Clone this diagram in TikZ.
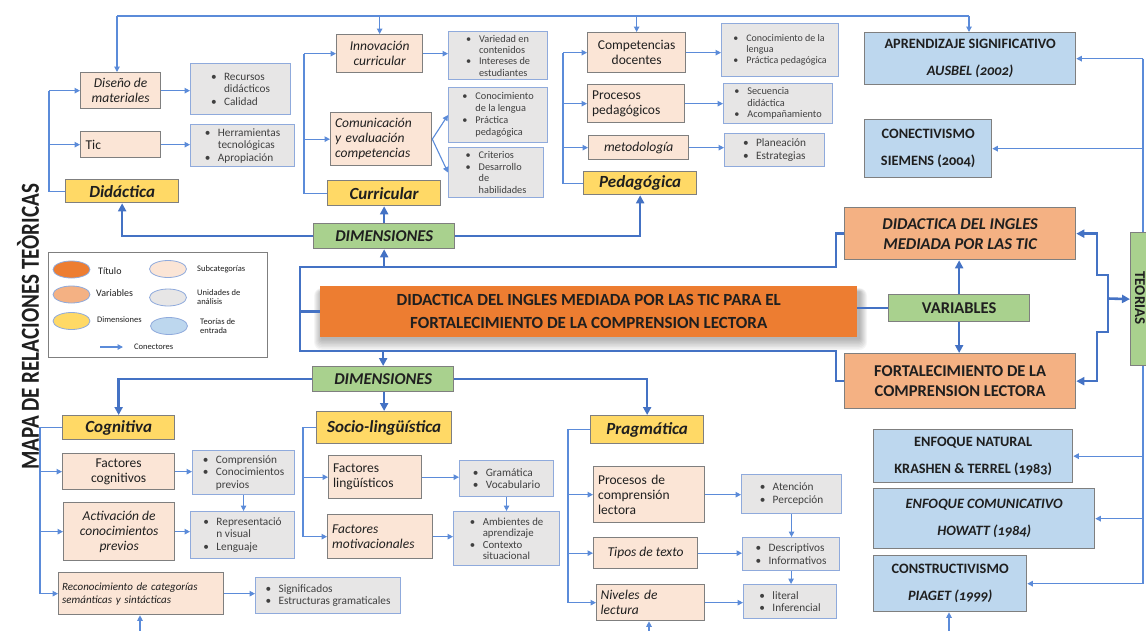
\documentclass[tikz,border=0pt]{standalone}
\usepackage{fontspec}
\usepackage{graphicx}
\setmainfont{Carlito}
\usetikzlibrary{arrows.meta,shapes.geometric}
\definecolor{cTitle}{HTML}{ED7D31}
\definecolor{cVar}{HTML}{F4B183}
\definecolor{cDim}{HTML}{FFD966}
\definecolor{cSub}{HTML}{FBE5D6}
\definecolor{cUni}{HTML}{E7E6E6}
\definecolor{cTeo}{HTML}{BDD7EE}
\definecolor{cGreen}{HTML}{A9D18E}
\definecolor{cLine}{HTML}{4472C4}
\definecolor{cThin}{HTML}{5B8BD9}
\definecolor{cBorder}{HTML}{7F7F7F}
\definecolor{cUniB}{HTML}{8FAADC}
\definecolor{cTxt}{HTML}{1F1F1F}
\definecolor{cUT}{HTML}{404040}
\newcommand\bx[7]{\node[#1,anchor=north west,minimum width=#5pt-#3pt,minimum height=#6pt-#4pt] (#2) at (#3,#4) {#7};}
\newcommand\bl{\makebox[13pt][l]{\textbullet}}
\newcommand\ind{\hspace*{13pt}}
\newcommand\osf{\addfontfeature{Numbers=OldStyle}}
\tikzset{
 base/.style={inner sep=2pt, text=cTxt, line width=1.3pt},
 sub/.style={base, fill=cSub, draw=cBorder, align=center, font=\fontsize{13.5}{15}\selectfont},
 subi/.style={sub, font=\fontsize{13.5}{15}\selectfont\itshape},
 uni/.style={base, fill=cUni, draw=cUniB, line width=1.1pt, align=left, text=cUT, font=\fontsize{11.3}{12.5}\selectfont},
 dimn/.style={base, fill=cDim, draw=cBorder, font=\fontsize{17}{19}\selectfont\bfseries\itshape},
 grn/.style={base, fill=cGreen, draw=cBorder, font=\fontsize{16.5}{19}\selectfont\bfseries},
 varn/.style={base, fill=cVar, draw=cBorder, align=center, font=\fontsize{16.5}{20}\selectfont\bfseries},
 teon/.style={base, fill=cTeo, draw=cBorder, align=center, font=\fontsize{14.3}{27}\selectfont\bfseries},
 titn/.style={inner sep=0pt, fill=cTitle, text=cTxt, align=center, font=\fontsize{17}{23}\selectfont\bfseries},
 tk/.style={draw=cLine, line width=2.6pt},
 tn/.style={draw=cThin, line width=1.1pt},
 tka/.style={tk, -{Triangle[length=8pt,width=8pt]}},
 tna/.style={tn, -{Triangle[length=5.5pt,width=5.5pt]}},
 le/.style={ellipse, draw=cUniB, line width=0.8pt, minimum width=37pt, minimum height=17pt, inner sep=0pt},
 lt/.style={anchor=west, inner sep=0pt, font=\fontsize{8.5}{9.5}\selectfont, align=left, text=cTxt},
}
\begin{document}
\begin{tikzpicture}[x=1pt,y=-1pt]
\useasboundingbox (0,0) rectangle (1146,630);
\fill[white] (0,0) rectangle (1146,630);

% vertical title
\node[rotate=90, text=cTxt, font=\fontsize{26}{28}\selectfont\bfseries] (vt) at (28,327) {\scalebox{0.81}[1]{MAPA DE RELACIONES TEÒRICAS}};

% ---- Didactica group
\bx{subi}{dis}{80}{72}{160}{108}{Diseño de\\materiales}
\bx{sub,text width=70pt,align=left}{tic}{80}{131}{160}{157}{Tic}
\bx{dimn}{did}{65}{179}{178}{202}{Didáctica}
\bx{uni}{rec1}{190}{63}{290}{114}{\bl Recursos\\\ind didácticos\\\bl Calidad}
\bx{uni}{her}{190}{124}{294}{166}{\bl Herramientas\\\ind tecnológicas\\\bl Apropiación}

% ---- Curricular group
\bx{subi}{inn}{336}{34}{422}{72}{Innovación\\curricular}
\bx{subi,text width=92pt,align=left}{com}{330}{112}{431}{165}{Comunicación\\y evaluación\\competencias}
\bx{dimn}{cur}{327}{180}{440}{205}{Curricular}
\bx{uni,font=\fontsize{10.3}{11.3}\selectfont}{var}{448}{31}{547}{79}{\bl Variedad en\\\ind contenidos\\\bl Intereses de\\\ind estudiantes}
\bx{uni,font=\fontsize{10.3}{12}\selectfont}{con}{448}{87}{547}{142}{\bl Conocimiento\\\ind de la lengua\\\bl Práctica\\\ind pedagógica}
\bx{uni,font=\fontsize{10.3}{11.5}\selectfont}{cri}{448}{147}{543}{197}{\bl Criterios\\\bl Desarrollo\\\ind de\\\ind habilidades}

% ---- Pedagogica group
\bx{sub}{comp}{587}{32}{685}{72}{Competencias\\docentes}
\bx{sub,text width=88pt,align=left}{proc}{587}{84}{684}{122}{Procesos\\pedagógicos}
\bx{subi}{met}{588}{135}{688}{159}{metodología}
\bx{dimn}{ped}{583}{171}{696}{194}{Pedagógica}
\bx{uni,font=\fontsize{10}{11}\selectfont}{cl2}{721}{23}{838}{76}{\bl Conocimiento de la\\\ind lengua\\\bl Práctica pedagógica}
\bx{uni,font=\fontsize{10.3}{11.5}\selectfont}{sec}{723}{83}{832}{123}{\bl Secuencia\\\ind didáctica\\\bl Acompañamiento}
\bx{uni}{pla}{724}{133}{824}{166}{\bl Planeación\\\bl Estrategias}

% ---- Theories
\bx{teon}{apr}{864}{32}{1075}{84}{APRENDIZAJE SIGNIFICATIVO\\{\itshape\osf AUSBEL (2002)}}
\bx{teon}{conect}{864}{119}{991}{177}{CONECTIVISMO\\{\osf SIEMENS (2004)}}
\bx{teon}{enat}{873}{429}{1072}{482}{ENFOQUE NATURAL\\{\osf KRASHEN \& TERREL (1983)}}
\bx{teon}{ecom}{873}{488}{1094}{548}{{\itshape ENFOQUE COMUNICATIVO}\\{\itshape\osf HOWATT (1984)}}
\bx{teon}{cons}{873}{555}{1026}{611}{CONSTRUCTIVISMO\\{\itshape\osf PIAGET (1999)}}

% ---- Variables
\bx{varn,font=\fontsize{16.5}{20}\selectfont\bfseries\itshape}{dit}{844}{207}{1075}{259}{DIDACTICA DEL INGLES\\MEDIADA POR LAS TIC}
\bx{varn}{fort}{844}{353}{1075}{408}{FORTALECIMIENTO DE LA\\COMPRENSION LECTORA}
\bx{grn}{varb}{888}{294}{1029}{321}{VARIABLES}

% ---- Dimensiones
\bx{grn,font=\fontsize{16.5}{19}\selectfont\bfseries\itshape}{dimT}{313}{223}{454}{248}{DIMENSIONES}
\bx{grn,font=\fontsize{16.5}{19}\selectfont\bfseries\itshape}{dimB}{312}{366}{453}{391}{DIMENSIONES}

% ---- Title with shadow
\foreach \i in {1,...,8}{\fill[black,opacity=0.04,rounded corners=\i pt] (322-\i,292-\i*0.5) rectangle (859+\i,338+\i*1.5);}
\bx{titn}{tit}{320}{286}{857}{337}{DIDACTICA DEL INGLES MEDIADA POR LAS TIC PARA EL\\FORTALECIMIENTO DE LA COMPRENSION LECTORA}

% ---- Legend
\node[draw=cBorder, line width=1.2pt, fill=white, anchor=north west, minimum width=219pt, minimum height=105pt] (leg) at (48,252) {};
\node[le, fill=cTitle] (e1) at (71.5,269.5) {};
\node[lt, font=\fontsize{10}{11}\selectfont] (t1) at (98,271) {Título};
\node[le, fill=cVar] (e2) at (71.5,294.5) {};
\node[lt, font=\fontsize{10}{11}\selectfont] (t2) at (96,293) {Variables};
\node[le, fill=cDim] (e3) at (71.5,321) {};
\node[lt] (t3) at (97,320) {Dimensiones};
\node[le, fill=cSub] (e4) at (168,269) {};
\node[lt] (t4) at (197,269) {Subcategorías};
\node[le, fill=cUni] (e5) at (168,297.5) {};
\node[lt] (t5) at (197,297) {Unidades de\\análisis};
\node[le, fill=cTeo] (e6) at (169,326) {};
\node[lt] (t6) at (200,326) {Teorías de\\entrada};
\coordinate (c1) at (100,347); \coordinate (c2) at (123,347);
\draw[tna] (c1) -- (c2);
\node[lt] (t7) at (134,347) {Conectores};

% ---- Bottom: Cognitiva
\bx{dimn}{cog}{62}{415}{174}{439}{Cognitiva}
\bx{sub}{fc}{62}{453}{174}{489}{Factores\\cognitivos}
\bx{subi}{act}{63}{502}{174}{560}{Activación de\\conocimientos\\previos}
\node[base, fill=cSub, draw=cBorder, anchor=north west, minimum width=165pt, minimum height=42pt, text width=158pt, align=left, font=\fontsize{11}{13}\selectfont\itshape, inner sep=3pt] (rec) at (58,572) {Reconocimiento de categorías\\semánticas y sintácticas\\[12pt]};
\bx{uni}{compr}{192}{450}{294}{494}{\bl Comprensión\\\bl Conocimientos\\\ind previos}
\bx{uni}{repr}{190}{511}{294}{558}{\bl Representació\\\ind n visual\\\bl Lenguaje}
\bx{uni}{sig}{255}{577}{400}{613}{\bl Significados\\\bl Estructuras gramaticales}

% ---- Socio-linguistica
\bx{dimn}{soc}{316}{411}{451}{443}{Socio-lingüística}
\bx{sub,text width=84pt,align=left}{fl}{328}{455}{421}{498}{Factores\\lingüísticos}
\bx{subi,text width=96pt,align=left}{fm}{327}{514}{432}{558}{Factores\\motivacionales}
\bx{uni}{gram}{459}{460}{553}{496}{\bl Gramática\\\bl Vocabulario}
\bx{uni,font=\fontsize{10.8}{11.5}\selectfont}{amb}{453}{511}{559}{565}{\bl Ambientes de\\\ind aprendizaje\\\bl Contexto\\\ind situacional}

% ---- Pragmatica
\bx{dimn}{prag}{590}{415}{703}{443}{Pragmática}
\bx{sub,text width=102pt,align=left}{pcl}{593}{466}{704}{522}{Procesos de\\comprensión\\lectora}
\bx{subi}{tt}{593}{537}{697}{568}{Tipos de texto}
\bx{subi,text width=100pt,align=left}{nl}{596}{584}{704}{620}{Niveles de\\lectura}
\bx{uni}{aten}{741}{474}{841}{513}{\bl Atención\\\bl Percepción}
\bx{uni}{desc}{742}{537}{839}{570}{\bl Descriptivos\\\bl Informativos}
\bx{uni}{lit}{743}{584}{836}{618}{\bl literal\\\bl Inferencial}

% ================= connectors
% top bus
\coordinate (tL) at (117,16);
\coordinate (tR) at (969,16);
\draw[tn] (tL) -- (tR);
\draw[tna] (tL) -- (tL |- dis.north);
\draw[tna] (inn.north |- tL) -- (inn.north);
\draw[tna] (comp.north |- tL) -- (comp.north);
\draw[tna] (tR) -- (tR |- apr.north);

% didactica
\coordinate (dL) at (49,0);
\draw[tn] (did.west) -| (dL |- dis.west);
\draw[tna] (dL |- dis.west) -- (dis.west);
\draw[tna] (dL |- tic.west) -- (tic.west);
\draw[tna] (dis.east) -- (dis.east -| rec1.west);
\draw[tna] (tic.east) -- (tic.east -| her.west);

% curricular
\coordinate (cL) at (304,0);
\draw[tn] (cur.west) -| (cL |- inn.west);
\draw[tna] (cL |- inn.west) -- (inn.west);
\draw[tna] (cL |- com.west) -- (com.west);
\draw[tna] (inn.east) -- (inn.east -| var.west);
\draw[tna] (com.east) -- (con.west);
\draw[tna] (com.east) -- (cri.west);

% pedagogica
\coordinate (pL) at (563,0);
\draw[tn] (ped.west) -| (pL |- comp.west);
\draw[tna] (pL |- comp.west) -- (comp.west);
\draw[tna] (pL |- proc.west) -- (proc.west);
\draw[tna] (pL |- met.west) -- (met.west);
\draw[tna] (comp.east) -- (comp.east -| cl2.west);
\draw[tna] (proc.east) -- (proc.east -| sec.west);
\draw[tna] (met.east) -- (met.east -| pla.west);

% dimensiones top
\draw[tka] (dimT.west) -| (did.south);
\draw[tka] (dimT.east) -| (ped.south);
\draw[tka] (dimT.north) -- (cur.south);

% main bus
\coordinate (bL) at (300,0); \coordinate (bR) at (836,0);
\coordinate (uy) at (0,267); \coordinate (ly) at (0,351);
\draw[tk] (dit.west) -| (bR |- uy) -- (bL |- uy) -- (bL |- ly) -- (bR |- ly) |- (fort.west);
\draw[tk] (bL |- tit.west) -- (tit.west);
\draw[tka] (dimT.south |- uy) -- (dimT.south);
\draw[tka] (dimB.north |- ly) -- (dimB.north);
\draw[tk] (varb.west -| tit.east) -- (varb.west);
\draw[tka] (varb.north) -- (varb.north |- dit.south);
\draw[tka] (varb.south) -- (varb.south |- fort.north);

% right thin bus
\coordinate (rB) at (1143,0);
\draw[tn] (rB |- apr.east) -- (rB |- cons.east);
\draw[tna] (rB |- apr.east) -- (apr.east);
\draw[tna] (rB |- conect.east) -- (conect.east);
\draw[tna] (rB |- enat.east) -- (enat.east);
\draw[tna] (rB |- ecom.east) -- (ecom.east);
\draw[tna] (rB |- cons.east) -- (cons.east);

% teorias
\bx{grn}{teo}{1130}{232}{1158}{365}{}
\node[rotate=-90, font=\fontsize{15}{17}\selectfont\bfseries, text=cTxt, inner sep=0pt] (teot) at (1140,298) {TEORIAS};
\coordinate (k1) at (1097,0); \coordinate (k2) at (1108,0);
\draw[tk, {Triangle[length=8pt,width=8pt]}-{Triangle[length=8pt,width=8pt]}] (dit.east) -- (k1 |- dit.east) -- (k1 |- 0,275) -- (k2 |- 0,275) -- (k2 |- 0,332) -- (k1 |- 0,332) -- (k1 |- fort.east) -- (fort.east);
\coordinate (kb) at (1108,298.5);
\draw[tka] (kb) -- (teo.west);

% dimensiones bottom
\draw[tka] (dimB.west) -| (cog.north);
\draw[tka] (dimB.east) -| (prag.north);
\draw[tka] (soc.north |- dimB.south) -- (soc.north);

% cognitiva
\coordinate (gL) at (40,0);
\draw[tn] (cog.west) -| (gL |- rec.west);
\draw[tna] (gL |- fc.west) -- (fc.west);
\draw[tna] (gL |- act.west) -- (act.west);
\draw[tna] (gL |- rec.west) -- (rec.west);
\draw[tna] (fc.east) -- (fc.east -| compr.west);
\draw[tna] (compr.south) -- (compr.south |- repr.north);
\draw[tna] (act.east) -- (act.east -| repr.west);
\draw[tna] (rec.east) -- (rec.east -| sig.west);
\coordinate (b1) at (140,634);
\draw[tna] (b1) -- (b1 |- rec.south);

% socio
\coordinate (sL) at (303,0);
\draw[tn] (soc.west) -| (sL |- fm.west);
\draw[tna] (sL |- fl.west) -- (fl.west);
\draw[tna] (sL |- fm.west) -- (fm.west);
\draw[tna] (fl.east) -- (fl.east -| gram.west);
\draw[tna] (gram.south) -- (gram.south |- amb.north);
\draw[tna] (fm.east) -- (fm.east -| amb.west);

% pragmatica
\coordinate (qL) at (568,0);
\draw[tn] (prag.west) -| (qL |- nl.west);
\draw[tna] (qL |- pcl.west) -- (pcl.west);
\draw[tna] (qL |- tt.west) -- (tt.west);
\draw[tna] (qL |- nl.west) -- (nl.west);
\draw[tna] (pcl.east) -- (pcl.east -| aten.west);
\draw[tna] (tt.east) -- (tt.east -| desc.west);
\draw[tna] (nl.east) -- (nl.east -| lit.west);
\draw[tna] (aten.south) -- (aten.south |- desc.north);
\draw[tna] (desc.south) -- (desc.south |- lit.north);
\coordinate (b2) at (649,634);
\draw[tna] (b2) -- (b2 |- nl.south);
\coordinate (b3) at (949,634);
\draw[tna] (b3) -- (b3 |- cons.south);
\end{tikzpicture}
\end{document}
